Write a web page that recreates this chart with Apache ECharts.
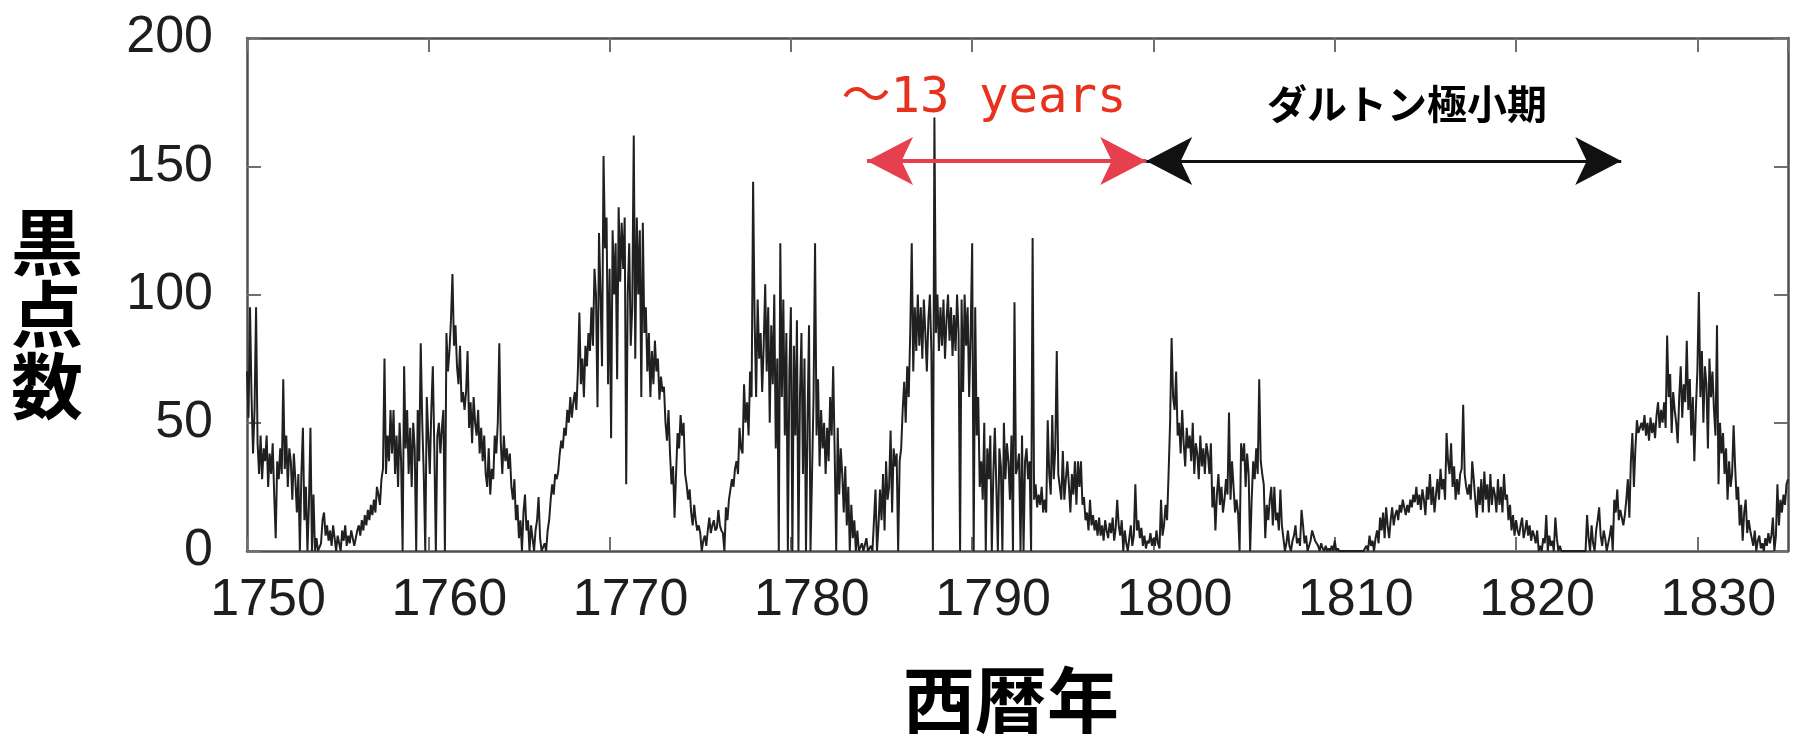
<!DOCTYPE html>
<html>
<head>
<meta charset="utf-8">
<script src="https://cdn.jsdelivr.net/npm/echarts@6/dist/echarts.min.js"></script>
<style>
  html, body { margin: 0; padding: 0; background: #ffffff; }
  #chart { width: 1801px; height: 734px; }
</style>
</head>
<body>
<div id="chart"></div>
<script>
// Monthly sunspot counts, one row of 12 months per year, grouped by decade.
const startYear = 1750;

const spots1750s = [
  70, 52, 95, 60, 38, 55, 95, 42, 30, 45, 28, 40,
  35, 45, 25, 38, 30, 42, 22, 5, 35, 28, 40, 30,
  67, 32, 45, 25, 40, 35, 20, 38, 28, 15, 30, 0,
  30, 48, 12, 25, 0, 18, 48, 0, 22, 0, 5, 0,
  0, 3, 12, 15, 6, 10, 4, 8, 2, 10, 5, 0,
  6, 3, 0, 8, 4, 10, 2, 6, 3, 8, 5, 2,
  5, 8, 10, 6, 12, 8, 14, 10, 16, 12, 18, 14,
  20, 15, 25, 22, 18, 28, 32, 75, 30, 45, 35, 55,
  38, 55, 30, 45, 25, 50, 35, 0, 72, 40, 55, 30,
  48, 25, 50, 40, 0, 55, 35, 81, 50, 30, 0, 60
];

const spots1760s = [
  45, 30, 55, 72, 40, 0, 45, 50, 38, 48, 55, 0,
  85, 70, 78, 90, 108, 80, 88, 72, 65, 80, 58, 62,
  55, 62, 78, 48, 58, 42, 60, 50, 45, 55, 38, 48,
  35, 45, 30, 25, 40, 22, 32, 28, 45, 38, 50, 81,
  42, 30, 45, 35, 40, 32, 38, 25, 20, 28, 12, 18,
  5, 12, 0, 15, 22, 8, 12, 0, 10, 5, 0, 8,
  12, 21, 5, 0, 0, 3, 0, 8, 12, 20, 26, 22,
  30, 28, 31, 38, 43, 40, 48, 45, 55, 50, 60, 52,
  58, 62, 55, 70, 93, 65, 75, 60, 80, 72, 85, 78,
  95, 80, 110, 100, 56, 124, 100, 72, 154, 118, 130, 65
];

const spots1770s = [
  110, 44, 125, 100, 120, 67, 134, 105, 128, 110, 130, 26,
  100, 120, 80, 95, 162, 75, 130, 100, 125, 60, 128, 85,
  95, 70, 85, 60, 78, 65, 82, 70, 75, 59, 68, 62,
  64, 50, 43, 55, 38, 26, 33, 13, 30, 46, 40, 53,
  45, 50, 30, 26, 20, 24, 15, 10, 18, 12, 8, 10,
  7, 0, 4, 6, 2, 8, 13, 7, 10, 12, 8, 9,
  16, 10, 8, 7, 0, 17, 12, 20, 24, 28, 25, 32,
  35, 30, 48, 40, 38, 65, 50, 58, 45, 70, 60, 144,
  90, 60, 98, 75, 85, 62, 80, 104, 70, 95, 50, 88,
  65, 100, 40, 75, 0, 120, 60, 98, 45, 85, 0, 70
];

const spots1780s = [
  95, 0, 80, 45, 90, 0, 60, 85, 30, 75, 0, 50,
  88, 0, 0, 60, 120, 45, 67, 33, 55, 40, 50, 30,
  48, 35, 60, 45, 72, 38, 0, 48, 22, 40, 30, 15,
  33, 10, 25, 0, 18, 5, 12, 0, 8, 0, 0, 3,
  0, 0, 5, 0, 0, 2, 0, 0, 24, 0, 10, 24,
  12, 30, 8, 35, 20, 25, 47, 15, 40, 33, 38, 0,
  35, 40, 55, 66, 50, 72, 60, 85, 120, 70, 95, 78,
  100, 80, 95, 75, 98, 85, 70, 90, 100, 78, 0, 169,
  85, 100, 78, 95, 80, 98, 75, 90, 100, 82, 95, 76,
  92, 78, 100, 85, 0, 98, 62, 100, 80, 95, 60, 85
];

const spots1790s = [
  120, 0, 95, 45, 60, 25, 35, 20, 50, 0, 40, 28,
  45, 0, 30, 48, 25, 0, 40, 33, 0, 50, 28, 42,
  35, 20, 45, 0, 97, 30, 33, 38, 0, 45, 0, 35,
  40, 28, 35, 0, 122, 20, 26, 17, 22, 18, 25, 15,
  20, 15, 51, 30, 22, 53, 28, 40, 78, 30, 25, 20,
  39, 20, 28, 35, 26, 15, 30, 22, 35, 18, 35, 25,
  35, 18, 21, 12, 15, 8, 20, 10, 14, 8, 12, 6,
  13, 6, 10, 4, 12, 8, 5, 11, 7, 13, 4, 9,
  20, 10, 6, 12, 0, 8, 3, 0, 5, 10, 2, 6,
  26, 8, 12, 5, 9, 2, 6, 1, 4, 3, 7, 2
];

const spots1800s = [
  5, 2, 8, 3, 1, 20, 6, 10, 18, 12, 30, 50,
  83, 60, 55, 70, 45, 50, 38, 55, 42, 33, 48, 40,
  45, 35, 50, 30, 42, 38, 28, 45, 33, 40, 30, 42,
  38, 30, 42, 17, 25, 8, 22, 30, 18, 25, 15, 20,
  28, 22, 54, 20, 35, 25, 15, 20, 15, 0, 42, 35,
  42, 25, 38, 30, 0, 20, 35, 28, 40, 30, 67, 35,
  30, 26, 5, 18, 12, 20, 25, 10, 25, 12, 15, 8,
  24, 10, 5, 0, 3, 8, 2, 0, 4, 6, 10, 3,
  5, 2, 16, 10, 3, 6, 0, 2, 4, 8, 6, 4,
  4, 2, 0, 3, 1, 0, 2, 0, 1, 0, 2, 0
];

const spots1810s = [
  4, 0, 1, 0, 0, 0, 0, 0, 0, 0, 0, 0,
  0, 0, 0, 0, 0, 0, 0, 0, 0, 2, 0, 6,
  2, 4, 0, 5, 8, 3, 13, 8, 15, 5, 17, 10,
  5, 12, 17, 10, 14, 16, 12, 18, 15, 20, 17, 14,
  18, 15, 20, 17, 22, 19, 25, 18, 22, 16, 24, 20,
  14, 25, 20, 30, 18, 25, 15, 22, 28, 20, 32, 24,
  28, 20, 46, 35, 30, 42, 25, 33, 20, 28, 22, 30,
  32, 57, 30, 25, 22, 26, 20, 35, 28, 20, 13, 25,
  18, 28, 15, 31, 20, 26, 15, 30, 18, 25, 22, 15,
  28, 18, 25, 15, 30, 20, 22, 12, 18, 8, 14, 6
];

const spots1820s = [
  12, 8, 6, 10, 13, 5, 8, 12, 6, 10, 4, 8,
  6, 3, 8, 0, 2, 0, 5, 3, 14, 0, 6, 2,
  4, 0, 13, 5, 0, 2, 0, 0, 0, 0, 0, 0,
  0, 0, 0, 0, 0, 0, 0, 0, 0, 0, 0, 14,
  5, 0, 10, 3, 0, 8, 12, 17, 6, 2, 8, 5,
  0, 0, 6, 10, 0, 20, 15, 24, 12, 16, 13, 10,
  14, 20, 28, 13, 35, 46, 25, 40, 51, 46, 48, 50,
  47, 53, 45, 50, 43, 52, 46, 50, 44, 53, 58, 48,
  55, 50, 58, 48, 84, 60, 69, 46, 62, 55, 50, 42,
  60, 72, 52, 65, 58, 82, 55, 67, 45, 60, 35, 55
];

const spots1830s = [
  70, 101, 60, 78, 50, 72, 65, 40, 75, 60, 70, 55,
  45, 88, 26, 50, 38, 46, 30, 40, 20, 35, 25, 30,
  49, 33, 20, 25, 10, 18, 4, 15, 20, 7, 12, 8,
  5, 2, 8, 0, 4, 6, 1, 3, 0, 5, 2, 7,
  3, 6, 13, 0, 6, 26, 10, 20, 15, 22, 18, 26,
  28
];

// Axis ticks
const yearTicks = [1750, 1760, 1770, 1780, 1790, 1800, 1810, 1820, 1830];
const countTicks = [0, 50, 100, 150, 200];
const yearMax = 1835;

// Annotation arrows (years) at a common sunspot level
const cycleSpan = [1784.2, 1799.6];   // 〜13 years
const daltonSpan = [1799.6, 1825.8];  // ダルトン極小期
const arrowLevel = 152;

const monthly = [].concat(spots1750s, spots1760s, spots1770s, spots1780s,
  spots1790s, spots1800s, spots1810s, spots1820s, spots1830s);
const points = monthly.map((v, i) => [startYear + i / 12, v]);

const chart = echarts.init(document.getElementById('chart'), null, { renderer: 'canvas' });

const frameColor = '#4f4f4f';
const tickColor = '#6f6f6f';
const labelFont = { fontSize: 52, fontFamily: '"Liberation Sans", Arial, sans-serif', color: '#1e1e1e' };

function xAxisDef(position, showLabel) {
  return {
    type: 'value', position: position,
    min: yearTicks[0], max: yearMax, interval: yearTicks[1] - yearTicks[0],
    axisLine: { show: true, onZero: false, lineStyle: { color: frameColor, width: 2.5 } },
    axisTick: { show: true, inside: true, length: 14, lineStyle: { color: tickColor, width: 2 } },
    axisLabel: Object.assign({
      show: showLabel, margin: 24, padding: [0, 0, 0, 42], showMaxLabel: false,
      formatter: (v) => (yearTicks.indexOf(v) >= 0 ? String(v) : '')
    }, labelFont),
    splitLine: { show: false }
  };
}
function yAxisDef(position, showLabel) {
  return {
    type: 'value', position: position,
    min: countTicks[0], max: countTicks[countTicks.length - 1], interval: countTicks[1] - countTicks[0],
    axisLine: { show: true, onZero: false, lineStyle: { color: frameColor, width: 2.5 } },
    axisTick: { show: true, inside: true, length: 14, lineStyle: { color: tickColor, width: 2 } },
    axisLabel: Object.assign({ show: showLabel, margin: 34, padding: [0, 0, 10, 0],
      formatter: (v) => String(v) }, labelFont),
    splitLine: { show: false }
  };
}

chart.setOption({
  animation: false,
  backgroundColor: '#ffffff',
  grid: { left: 247, top: 38, right: 13, bottom: 183, containLabel: false },
  xAxis: [xAxisDef('bottom', true), xAxisDef('top', false)],
  yAxis: [yAxisDef('left', true), yAxisDef('right', false)],
  series: [{
    type: 'line',
    xAxisIndex: 0, yAxisIndex: 0,
    data: points,
    showSymbol: false,
    symbol: 'none',
    sampling: null,
    clip: true,
    lineStyle: { color: '#202020', width: 2 },
    markLine: {
      silent: true,
      animation: false,
      symbol: ['arrow', 'arrow'],
      symbolSize: [36, 46],
      label: { show: false },
      emphasis: { disabled: true },
      data: [
        [
          { coord: [cycleSpan[0], arrowLevel], lineStyle: { color: '#e6404e', width: 4, type: 'solid' } },
          { coord: [cycleSpan[1], arrowLevel] }
        ],
        [
          { coord: [daltonSpan[0], arrowLevel], lineStyle: { color: '#111111', width: 3, type: 'solid' } },
          { coord: [daltonSpan[1], arrowLevel] }
        ]
      ]
    }
  }],
  graphic: [
    {
      type: 'text', x: 47, y: 314,
      style: {
        text: '黒\n点\n数', fill: '#000000',
        fontSize: 72, fontWeight: 'bold', fontFamily: '"Noto Sans CJK JP", sans-serif',
        lineHeight: 72, align: 'center', verticalAlign: 'middle'
      }
    },
    {
      type: 'text', x: 1011, y: 700,
      style: {
        text: '西暦年', fill: '#000000',
        fontSize: 72, fontWeight: 'bold', fontFamily: '"Noto Sans CJK JP", sans-serif',
        align: 'center', verticalAlign: 'middle'
      }
    },
    {
      type: 'text', x: 984, y: 99,
      style: {
        text: '〜13 years', fill: '#e8321e',
        fontSize: 49, fontFamily: '"DejaVu Sans Mono", "Noto Sans CJK JP", monospace',
        align: 'center', verticalAlign: 'middle'
      }
    },
    {
      type: 'text', x: 1407, y: 104,
      style: {
        text: 'ダルトン極小期', fill: '#000000',
        fontSize: 40, fontWeight: 'bold', fontFamily: '"Noto Sans CJK JP", sans-serif',
        align: 'center', verticalAlign: 'middle'
      }
    }
  ]
});
</script>
</body>
</html>
